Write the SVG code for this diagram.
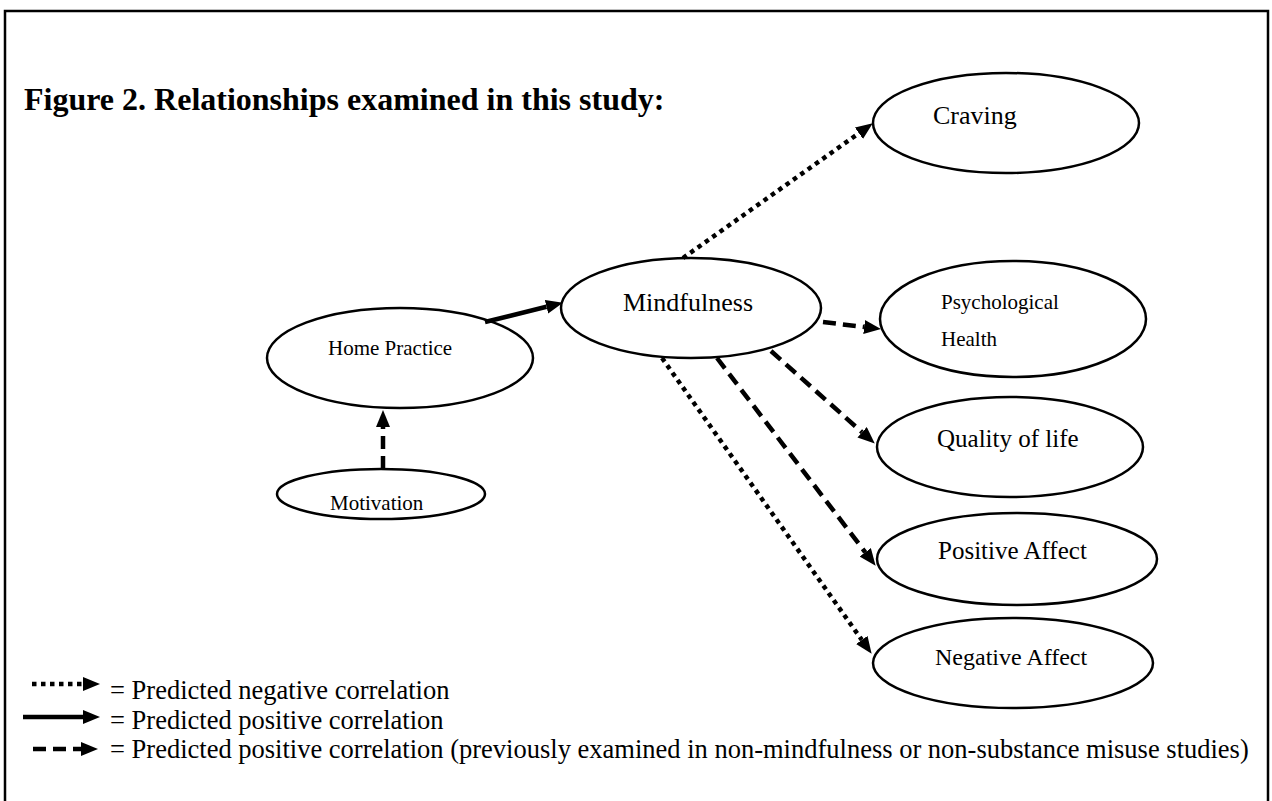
<svg xmlns="http://www.w3.org/2000/svg" width="1272" height="801" viewBox="0 0 1272 801">
<style>
.node ellipse{fill:#fff;stroke:#000;stroke-width:2.5}
.t{font-family:"Liberation Serif","Times New Roman",serif;fill:#000}
.c{fill:none;stroke:#000;stroke-width:4.5}
.dot{stroke-dasharray:4.5 4.5}
.dash{stroke-dasharray:13 7}
</style>
<defs>
<marker id="ah" viewBox="0 -7 17 14" refX="0" refY="0" markerWidth="17" markerHeight="14" markerUnits="userSpaceOnUse" orient="auto">
<path d="M0,-7 L17,0 L0,7 z" fill="#000"/>
</marker>
</defs>
<rect x="0" y="0" width="1272" height="801" fill="#fff"/>
<path d="M5,801 V11 H1268 V801" fill="none" stroke="#000" stroke-width="2.5"/>
<text class="t" x="24" y="110" font-size="32" font-weight="bold">Figure 2. Relationships examined in this study:</text>

<g id="craving" class="node"><ellipse cx="1006" cy="123" rx="133" ry="50"/><text class="t" x="933" y="124" font-size="26">Craving</text></g>
<g id="mindfulness" class="node"><ellipse cx="691" cy="308" rx="130" ry="50"/><text class="t" x="623" y="311" font-size="26">Mindfulness</text></g>
<g id="psych" class="node"><ellipse cx="1013" cy="319" rx="133" ry="58"/><text class="t" x="941" y="309" font-size="21">Psychological</text><text class="t" x="941" y="346" font-size="21">Health</text></g>
<g id="home" class="node"><ellipse cx="400" cy="358" rx="133" ry="50"/><text class="t" x="328" y="355" font-size="21">Home Practice</text></g>
<g id="quality" class="node"><ellipse cx="1010" cy="447" rx="133" ry="50"/><text class="t" x="937" y="447" font-size="25">Quality of life</text></g>
<g id="motivation" class="node"><ellipse cx="381" cy="494" rx="104" ry="25"/><text class="t" x="330" y="510" font-size="21">Motivation</text></g>
<g id="positive" class="node"><ellipse cx="1017" cy="559" rx="140" ry="46"/><text class="t" x="938" y="559" font-size="25">Positive Affect</text></g>
<g id="negative" class="node"><ellipse cx="1013" cy="663" rx="140" ry="45"/><text class="t" x="935" y="665" font-size="24">Negative Affect</text></g>

<g id="connectors">
<line class="c" x1="485" y1="322" x2="546.5" y2="306.8" marker-end="url(#ah)"/>
<line class="c dash" x1="383" y1="469" x2="383" y2="427" marker-end="url(#ah)"/>
<line class="c dot" x1="683" y1="258" x2="858.9" y2="133.2" marker-end="url(#ah)"/>
<line class="c dash" x1="823" y1="322" x2="864.1" y2="327" marker-end="url(#ah)"/>
<line class="c dash" x1="771" y1="351" x2="862.1" y2="432.3" marker-end="url(#ah)"/>
<line class="c dash" x1="717" y1="358" x2="865.3" y2="552.3" marker-end="url(#ah)"/>
<line class="c dot" x1="662" y1="358" x2="861.8" y2="639.9" marker-end="url(#ah)"/>
</g>

<g id="legend">
<line class="c dot" x1="32" y1="684" x2="83" y2="684" marker-end="url(#ah)"/>
<line class="c" x1="23" y1="717" x2="83" y2="717" marker-end="url(#ah)"/>
<line class="c dash" x1="33" y1="749" x2="81" y2="749" marker-end="url(#ah)"/>
<text class="t" x="110" y="699" font-size="26.5">= Predicted negative correlation</text>
<text class="t" x="110" y="729" font-size="26.5">= Predicted positive correlation</text>
<text class="t" x="110" y="758" font-size="26.5">= Predicted positive correlation (previously examined in non-mindfulness or non-substance misuse studies)</text>
</g>
</svg>
